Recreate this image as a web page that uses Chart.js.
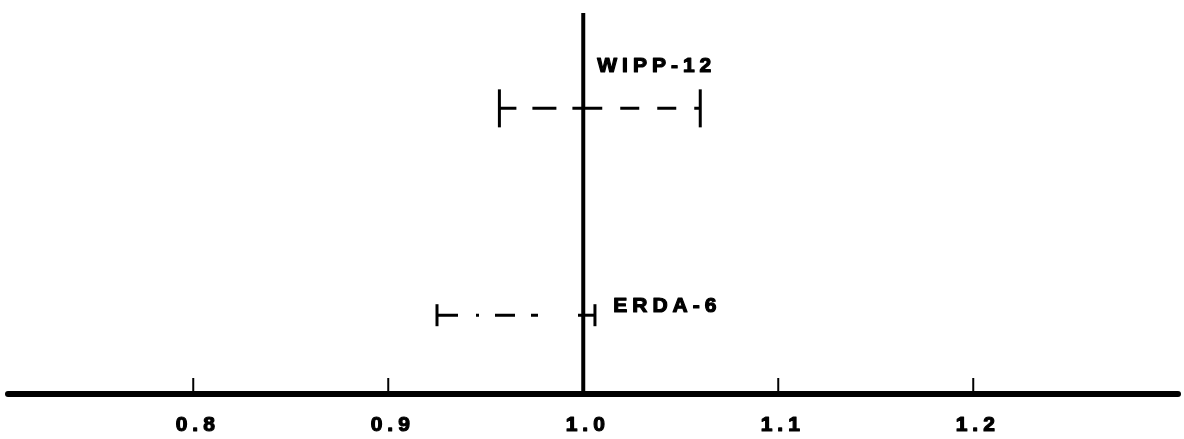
<!DOCTYPE html>
<html lang="en">
<head>
<meta charset="utf-8">
<script src="https://cdn.jsdelivr.net/npm/chart.js@4.4.0/dist/chart.umd.min.js"></script>
<style>
  html, body { margin: 0; padding: 0; background: #fff; }
  #container { width: 1184px; height: 439px; }
</style>
</head>
<body>
<div id="container">
  <canvas id="chart-ratio" width="1184" height="439"></canvas>
</div>

<script>
  // data
  var seriesNames = ['WIPP-12', 'ERDA-6'];
  var lowValues = [0.957, 0.925];
  var highValues = [1.060, 1.006];
  var rowLevels = [7.25, 2.0];
  var tickValues = [0.8, 0.9, 1.0, 1.1, 1.2];
  var tickLabels = ['0.8', '0.9', '1.0', '1.1', '1.2'];
  var refValue = 1.0;
  var refTop = 9.67;

  // styles
  var capSizes = [19, 11];
  var leftDash = [[17, 16, 24, 16], [21, 18, 3, 16, 20, 16, 7, 40]];
  var rightDash = [[19, 18], []];
  var labelOffsets = [{dx: 14, dy: -36}, {dx: 30, dy: -3}];
  var fontName = '"Liberation Sans", Arial, sans-serif';

  var datasets = [];

  datasets.push({
    label: 'ref',
    data: [{x: refValue, y: 0}, {x: refValue, y: refTop}],
    showLine: true,
    borderColor: '#000',
    borderWidth: 4,
    pointRadius: 0
  });

  seriesNames.forEach(function (name, i) {
    datasets.push({
      label: name,
      data: [
        {x: lowValues[i], y: rowLevels[i]},
        {x: refValue, y: rowLevels[i]},
        {x: highValues[i], y: rowLevels[i]}
      ],
      showLine: true,
      borderColor: '#000',
      borderWidth: 3,
      pointStyle: 'line',
      pointRotation: 90,
      pointBorderColor: '#000',
      pointBorderWidth: 3,
      pointRadius: function (ctx) { return ctx.dataIndex === 1 ? 0 : capSizes[i]; },
      segment: {
        borderDash: function (ctx) {
          return ctx.p0.parsed.x < refValue ? leftDash[i] : rightDash[i];
        }
      }
    });
  });

  // heavy lettering like the plotter font
  function heavyText(ctx, txt, x, y) {
    ctx.fillText(txt, x, y);
    ctx.strokeText(txt, x, y);
  }

  var axisPlugin = {
    id: 'axisPlugin',
    afterDatasetsDraw: function (chart) {
      var ctx = chart.ctx;
      var xs = chart.scales.x;
      var ys = chart.scales.y;
      var area = chart.chartArea;
      var y0 = ys.getPixelForValue(0);

      ctx.save();
      ctx.strokeStyle = '#000';
      ctx.fillStyle = '#000';

      // axis line
      ctx.lineWidth = 6;
      ctx.lineCap = 'round';
      ctx.beginPath();
      ctx.moveTo(area.left, y0);
      ctx.lineTo(area.right, y0);
      ctx.stroke();

      // ticks point up
      ctx.lineCap = 'butt';
      tickValues.forEach(function (v, k) {
        var px = xs.getPixelForValue(v);
        ctx.lineWidth = 2;
        ctx.beginPath();
        ctx.moveTo(px, y0);
        ctx.lineTo(px, y0 - 16);
        ctx.stroke();

        ctx.font = 'bold 21px ' + fontName;
        ctx.letterSpacing = '5px';
        ctx.textAlign = 'center';
        ctx.textBaseline = 'alphabetic';
        ctx.lineWidth = 1.2;
        ctx.lineJoin = 'round';
        heavyText(ctx, tickLabels[k], px + 2 + 2.5, 431);
      });

      // series labels
      var refPx = xs.getPixelForValue(refValue);
      ctx.font = 'bold 21px ' + fontName;
      ctx.letterSpacing = '5px';
      ctx.textAlign = 'left';
      ctx.lineWidth = 1.2;
      seriesNames.forEach(function (name, i) {
        var py = ys.getPixelForValue(rowLevels[i]);
        heavyText(ctx, name, refPx + labelOffsets[i].dx, py + labelOffsets[i].dy);
      });
      ctx.restore();
    }
  };

  var chart = new Chart(document.getElementById('chart-ratio').getContext('2d'), {
    type: 'scatter',
    data: {datasets: datasets},
    options: {
      responsive: false,
      animation: false,
      layout: {autoPadding: false, padding: {left: 8, right: 6, top: 0, bottom: 45}},
      plugins: {
        legend: {display: false},
        tooltip: {enabled: false}
      },
      scales: {
        x: {type: 'linear', min: 0.705, max: 1.305, display: false},
        y: {type: 'linear', min: 0, max: 10, display: false}
      }
    },
    plugins: [axisPlugin]
  });
</script>
</body>
</html>
